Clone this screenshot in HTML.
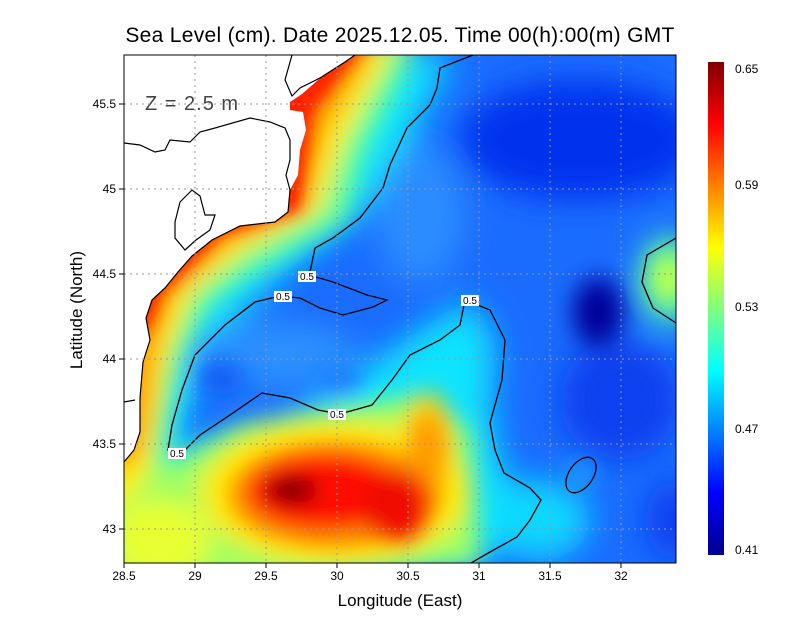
<!DOCTYPE html>
<html><head><style>
body{margin:0;background:#fff;width:800px;height:618px;overflow:hidden}
svg{display:block;font-family:"Liberation Sans",sans-serif}
</style></head><body>
<svg width="800" height="618" viewBox="0 0 800 618">
<defs>
<clipPath id="pc"><rect x="124" y="55" width="552" height="508"/></clipPath>
<filter id="b1" x="-50%" y="-50%" width="200%" height="200%"><feGaussianBlur stdDeviation="16"/></filter>
<filter id="b2" x="-50%" y="-50%" width="200%" height="200%"><feGaussianBlur stdDeviation="12"/></filter>
<filter id="b3" x="-50%" y="-50%" width="200%" height="200%"><feGaussianBlur stdDeviation="7"/></filter>
<filter id="b4" x="-50%" y="-50%" width="200%" height="200%"><feGaussianBlur stdDeviation="10"/></filter>
<linearGradient id="cb" x1="0" y1="1" x2="0" y2="0">
<stop offset="0" stop-color="#00008f"/><stop offset="0.125" stop-color="#0000ff"/>
<stop offset="0.375" stop-color="#00ffff"/><stop offset="0.625" stop-color="#ffff00"/>
<stop offset="0.875" stop-color="#ff0000"/><stop offset="1" stop-color="#800000"/>
</linearGradient>
</defs>
<text x="400" y="42" text-anchor="middle" font-size="21" fill="#000" letter-spacing="0.3">Sea Level (cm). Date 2025.12.05. Time 00(h):00(m) GMT</text>
<g clip-path="url(#pc)">
<rect x="100" y="40" width="600" height="540" fill="#1a6cff"/>
<g filter="url(#b1)">
<ellipse cx="580" cy="140" rx="120" ry="60" fill="#0630ee"/>
<ellipse cx="620" cy="400" rx="60" ry="60" fill="#0c40f0"/>
<ellipse cx="676" cy="520" rx="30" ry="40" fill="#0c40f0"/>
<path d="M124 55 L455 55 L425 110 L395 175 L340 230 L300 260 L230 320 L190 400 L175 450 L280 430 L420 330 L470 300 L495 340 L492 420 L505 475 L540 500 L520 540 L476 563 L100 600 Z" fill="#10e4ff"/>
<ellipse cx="270" cy="355" rx="90" ry="35" fill="#2a90ff"/>
<ellipse cx="420" cy="215" rx="45" ry="70" fill="#2a8cff"/>
<ellipse cx="540" cy="520" rx="50" ry="40" fill="#10d8ff"/>
<ellipse cx="670" cy="280" rx="30" ry="45" fill="#50ffb0"/>
</g>
<g filter="url(#b2)">
<path d="M100 40 L420 40 L365 150 L345 220 L240 280 L205 310 L180 360 L168 420 L165 480 L124 563 L100 563 Z" fill="#70ff90"/>
<path d="M100 480 L170 465 L240 425 L420 395 L470 430 L480 563 L100 600 Z" fill="#a0ff60"/>
<path d="M100 40 L398 40 L345 140 L320 212 L248 250 L194 292 L172 350 L160 420 L150 470 L124 505 L100 505 Z" fill="#ffee00"/>
<ellipse cx="335" cy="492" rx="135" ry="72" fill="#ffe800"/>
<ellipse cx="160" cy="540" rx="50" ry="40" fill="#e8ff30"/>
<ellipse cx="428" cy="440" rx="24" ry="48" fill="#ffd000"/>
<path d="M100 40 L380 40 L326 130 L306 212 L232 242 L174 296 L156 350 L148 420 L140 460 L100 470 Z" fill="#ff9800"/>
<ellipse cx="220" cy="378" rx="25" ry="16" fill="#0c58f4"/>
<ellipse cx="342" cy="380" rx="22" ry="12" fill="#1a70ff"/>
<ellipse cx="598" cy="312" rx="25" ry="35" fill="#000098"/>
<ellipse cx="668" cy="278" rx="16" ry="26" fill="#c8ff40"/>
<ellipse cx="581" cy="475" rx="12" ry="16" fill="#20a0ff"/>
</g>
<g filter="url(#b4)">
<ellipse cx="335" cy="495" rx="105" ry="52" fill="#ff8c00"/>
<ellipse cx="428" cy="450" rx="16" ry="35" fill="#ff9800"/>
<ellipse cx="325" cy="492" rx="78" ry="38" fill="#ff1000"/>
<ellipse cx="395" cy="505" rx="35" ry="36" fill="#f01000"/>
<ellipse cx="292" cy="490" rx="26" ry="15" fill="#850000"/>
</g>
<g filter="url(#b3)">
<path d="M100 40 L368 40 L313 112 L299 210 L222 234 L162 293 L148 330 L100 340 Z" fill="#ff2000"/>
</g>
<path d="M124 55 L355 55 L348 60 L335 68 L318 80 L302 94 L290 102 L290 110 L303 112 L306 130 L300 150 L298 175 L290 190 L288 212 L275 222 L240 226 L212 240 L192 256 L178 272 L165 288 L152 300 L146 318 L150 340 L143 362 L140 398 L140 432 L134 450 L124 462 Z" fill="#fff"/>
<g fill="none" stroke="#000" stroke-width="1.2">
<path d="M124 143 L140 145 L155 152 L165 150 L170 140 L190 142 L200 132 L215 128 L250 118 L270 122 L285 128 L290 140 L290 160 L286 175 L290 190 L288 212 L275 222 L240 226 L212 240 L192 256 L178 272 L165 288 L152 300 L146 318 L150 340 L143 362 L140 398 L140 432 L134 450 L124 462"/>
<path d="M292 55 L285 80 L292 96 L300 88 L320 78 L345 62 L355 55"/>
<path d="M175 222 L180 202 L192 190 L200 196 L205 215 L215 215 L210 230 L196 240 L185 250 L175 238 Z"/>
<path d="M124 402 L135 400"/>
</g>
<g fill="none" stroke="#000" stroke-width="1.3">
<path d="M473 55 L440 68 L437 88 L430 105 L407 128 L390 165 L383 188 L360 218 L333 238 L315 248 L310 272"/>
<path d="M316 277 L333 282 L367 295 L387 300 L373 307 L343 315 L320 308 L300 298 L280 296 L255 302 L225 325 L195 355 L182 390 L172 425 L168 450 L185 450 L200 435 L230 415 L262 393 L290 398 L318 410 L340 414 L372 405 L392 380 L410 355 L440 340 L460 325 L465 300 L490 310 L505 340 L502 380 L490 423 L495 450 L504 473 L530 488 L541 500 L530 520 L517 537 L490 552 L471 563"/>
<path d="M676 238 L647 255 L642 282 L653 308 L676 323"/>
<ellipse cx="581" cy="475" rx="12" ry="20" transform="rotate(35 581 475)"/>
</g>
<g font-size="10" text-anchor="middle">
<rect x="298" y="271" width="18" height="11" fill="#fff"/><text x="307" y="280">0.5</text>
<rect x="274" y="291" width="18" height="11" fill="#fff"/><text x="283" y="300">0.5</text>
<rect x="461" y="295" width="18" height="11" fill="#fff"/><text x="470" y="304">0.5</text>
<rect x="328" y="409" width="18" height="11" fill="#fff"/><text x="337" y="418">0.5</text>
<rect x="168" y="448" width="18" height="11" fill="#fff"/><text x="177" y="457">0.5</text>
</g>
<text x="145" y="110" font-size="20" fill="#444" letter-spacing="1">Z = 2.5 m</text>
<g stroke="#999" stroke-width="1" stroke-dasharray="2,4">
<path d="M195 55V563M266 55V563M337 55V563M408 55V563M479 55V563M550 55V563M621 55V563"/>
<path d="M124 104H676M124 189H676M124 274H676M124 359H676M124 444H676M124 529H676"/>
</g>
</g>
<rect x="124" y="55" width="552" height="508" fill="none" stroke="#000"/>
<g stroke="#000"><path d="M124 563v5M195 563v5M266 563v5M337 563v5M408 563v5M479 563v5M550 563v5M621 563v5M124 104h-5M124 189h-5M124 274h-5M124 359h-5M124 444h-5M124 529h-5"/></g>
<g font-size="12" text-anchor="middle">
<text x="124" y="580">28.5</text><text x="195" y="580">29</text><text x="266" y="580">29.5</text><text x="337" y="580">30</text><text x="408" y="580">30.5</text><text x="479" y="580">31</text><text x="550" y="580">31.5</text><text x="621" y="580">32</text>
</g>
<g font-size="12" text-anchor="end">
<text x="116" y="108">45.5</text><text x="116" y="193">45</text><text x="116" y="278">44.5</text><text x="116" y="363">44</text><text x="116" y="448">43.5</text><text x="116" y="533">43</text>
</g>
<text x="400" y="606" text-anchor="middle" font-size="17">Longitude (East)</text>
<text transform="translate(82 310) rotate(-90)" text-anchor="middle" font-size="17">Latitude (North)</text>
<rect x="708" y="62" width="16" height="493" fill="url(#cb)"/>
<g font-size="12"><text x="735" y="73">0.65</text><text x="735" y="189">0.59</text><text x="735" y="311">0.53</text><text x="735" y="433">0.47</text><text x="735" y="554">0.41</text></g>
</svg>
</body></html>
